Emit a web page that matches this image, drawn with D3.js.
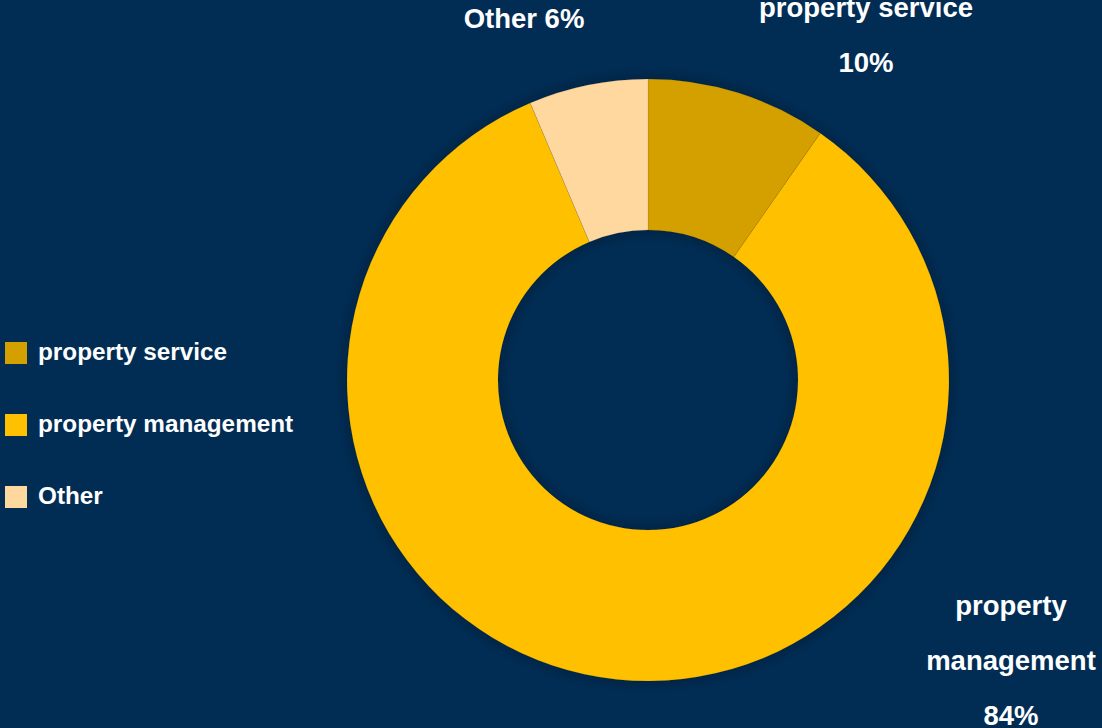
<!DOCTYPE html>
<html>
<head>
<meta charset="utf-8">
<script src="https://cdn.jsdelivr.net/npm/d3@7/dist/d3.min.js"></script>
<style>
  html, body { margin: 0; padding: 0; background: #012d55; overflow: hidden; }
  svg { display: block; }
  text { font-family: "Liberation Sans", Arial, sans-serif; font-weight: bold; fill: #ffffff; }
</style>
</head>
<body>
<svg id="chart" width="1102" height="728"></svg>
<script>
// ---- data ----
const categories = ["property service", "property management", "Other"];
const values = [9.7, 83.9, 6.4];
const colors = ["#d4a000", "#ffc000", "#ffd8a0"];
// label text lines (name split across lines as in the reference)
const labelLines = [
  ["property service", "{p}"],
  ["property", "management", "{p}"],
  ["Other {p}"]
];

// ---- layout (not data) ----
const W = 1102, H = 728;
const cx = 648, cy = 380;
const outerR = 301, innerR = 150;
const labelAnchor = [ // label centre offsets from donut centre (first baseline)
  { dx: 218, dy: -363 },
  { dx: 363, dy: 235 },
  { dx: -124, dy: -352 }
];
const lineH = 55;

const svg = d3.select("#chart");
svg.append("rect").attr("width", W).attr("height", H).attr("fill", "#012d55");

const defs = svg.append("defs");
const f = defs.append("filter").attr("id", "shadow")
  .attr("x", "-20%").attr("y", "-20%").attr("width", "140%").attr("height", "140%");
f.append("feDropShadow").attr("dx", 0).attr("dy", 0).attr("stdDeviation", 9)
  .attr("flood-color", "#000000").attr("flood-opacity", 0.35);

const total = d3.sum(values);
const pie = d3.pie().sort(null).value(d => d.value);
const arc = d3.arc().innerRadius(innerR).outerRadius(outerR);
const data = categories.map((c, i) => ({ name: c, value: values[i], color: colors[i], i }));
const arcs = pie(data);

const g = svg.append("g").attr("transform", `translate(${cx},${cy})`);
g.append("g").attr("filter", "url(#shadow)")
  .selectAll("path").data(arcs).join("path")
  .attr("d", arc)
  .attr("fill", d => d.data.color)
  .attr("stroke", "rgba(0,0,0,0.12)")
  .attr("stroke-width", 0.6);

// labels
arcs.forEach((a) => {
  const i = a.data.i;
  const pct = Math.round(a.data.value / total * 100) + "%";
  const t = g.append("text")
    .attr("text-anchor", "middle")
    .style("font-size", "27.5px");
  labelLines[i].forEach((ln, j) => {
    t.append("tspan")
      .attr("x", labelAnchor[i].dx)
      .attr("y", labelAnchor[i].dy + j * lineH)
      .text(ln.replace("{p}", pct));
  });
});

// legend
const legend = svg.append("g").attr("transform", "translate(5,342)");
const li = legend.selectAll("g").data(data).join("g")
  .attr("transform", (d, i) => `translate(0,${i * 72})`);
li.append("rect").attr("width", 22).attr("height", 22).attr("fill", d => d.color);
li.append("text").attr("x", 33).attr("y", 9).attr("dy", "0.36em")
  .style("font-size", "24.3px").text(d => d.name);
</script>
</body>
</html>
